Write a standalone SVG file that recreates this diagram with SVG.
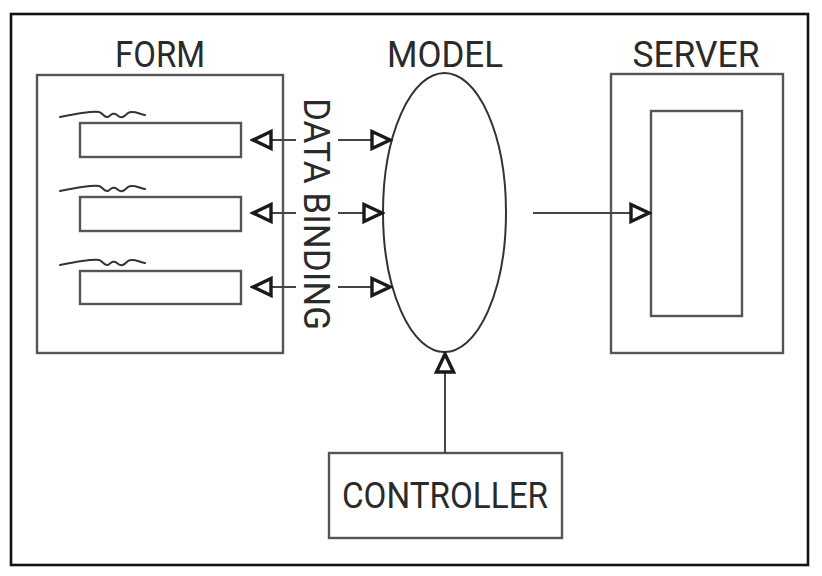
<svg xmlns="http://www.w3.org/2000/svg" width="822" height="576" viewBox="0 0 822 576">
<style>
.box{fill:#fff;stroke:#555;stroke-width:2.4}
.lbl{font-family:Roboto,"Liberation Sans",sans-serif;font-size:36px;fill:#2a2a2a}
.conn{stroke:#444;stroke-width:2;fill:none}
.sq{stroke:#333;stroke-width:2;fill:none;stroke-linecap:round}
</style>
<defs>
<marker id="tri" viewBox="0 0 24 22" refX="22" refY="11" markerWidth="24" markerHeight="22" markerUnits="userSpaceOnUse" orient="auto">
<path d="M3,2.5 L21,11 L3,19.5 Z" fill="#fff" stroke="#1a1a1a" stroke-width="3.4" stroke-linejoin="miter"/>
</marker>
</defs>
<rect x="0" y="0" width="822" height="576" fill="#fff"/>
<rect x="11" y="14" width="797" height="551" fill="#fff" stroke="#111" stroke-width="2.6"/>

<g id="form">
<rect class="box" x="37" y="75" width="246" height="278"/>
<text class="lbl" x="160" y="67" text-anchor="middle" textLength="90" lengthAdjust="spacingAndGlyphs">FORM</text>
<g id="field1">
<path class="sq" d="M60,117 C75,114 90,111 99,112 C103,113 104,118 108,117 C111,115 113,112 117,115 C121,119 124,117 128,113 C133,110 139,114 145,115"/>
<rect class="box" x="80" y="123" width="161" height="34"/>
</g>
<g id="field2">
<path class="sq" d="M60,191 C75,188 90,185 99,186 C103,187 104,192 108,191 C111,189 113,186 117,189 C121,193 124,191 128,187 C133,184 139,188 145,189"/>
<rect class="box" x="80" y="197" width="161" height="34"/>
</g>
<g id="field3">
<path class="sq" d="M60,265 C75,262 90,259 99,260 C103,261 104,266 108,265 C111,263 113,260 117,263 C121,267 124,265 128,261 C133,258 139,262 145,263"/>
<rect class="box" x="80" y="271" width="161" height="33"/>
</g>
</g>

<g id="model">
<ellipse cx="444.5" cy="212.5" rx="61.5" ry="139.5" fill="#fff" stroke="#333" stroke-width="2"/>
<text class="lbl" x="445" y="67" text-anchor="middle" textLength="116" lengthAdjust="spacingAndGlyphs">MODEL</text>
</g>

<g id="server">
<rect class="box" x="611" y="74" width="172" height="279"/>
<rect class="box" x="651" y="111" width="91" height="205"/>
<text class="lbl" x="696" y="67" text-anchor="middle" textLength="127" lengthAdjust="spacingAndGlyphs">SERVER</text>
</g>

<g id="controller">
<rect class="box" x="329" y="453" width="233" height="85"/>
<text class="lbl" x="445" y="508" text-anchor="middle" textLength="206" lengthAdjust="spacingAndGlyphs">CONTROLLER</text>
</g>

<g id="data-binding-label">
<text class="lbl" transform="translate(304,98) rotate(90)" textLength="232" lengthAdjust="spacingAndGlyphs">DATA BINDING</text>
</g>

<g id="connectors">
<line class="conn" x1="296" y1="140" x2="252" y2="140" marker-end="url(#tri)"/>
<line class="conn" x1="338" y1="140" x2="391" y2="140" marker-end="url(#tri)"/>
<line class="conn" x1="296" y1="213" x2="252" y2="213" marker-end="url(#tri)"/>
<line class="conn" x1="338" y1="213" x2="383" y2="213" marker-end="url(#tri)"/>
<line class="conn" x1="296" y1="287" x2="252" y2="287" marker-end="url(#tri)"/>
<line class="conn" x1="338" y1="287" x2="391" y2="287" marker-end="url(#tri)"/>
<line class="conn" x1="533" y1="213" x2="650" y2="213" marker-end="url(#tri)"/>
<line class="conn" x1="445" y1="453" x2="445" y2="353" marker-end="url(#tri)"/>
</g>
</svg>
